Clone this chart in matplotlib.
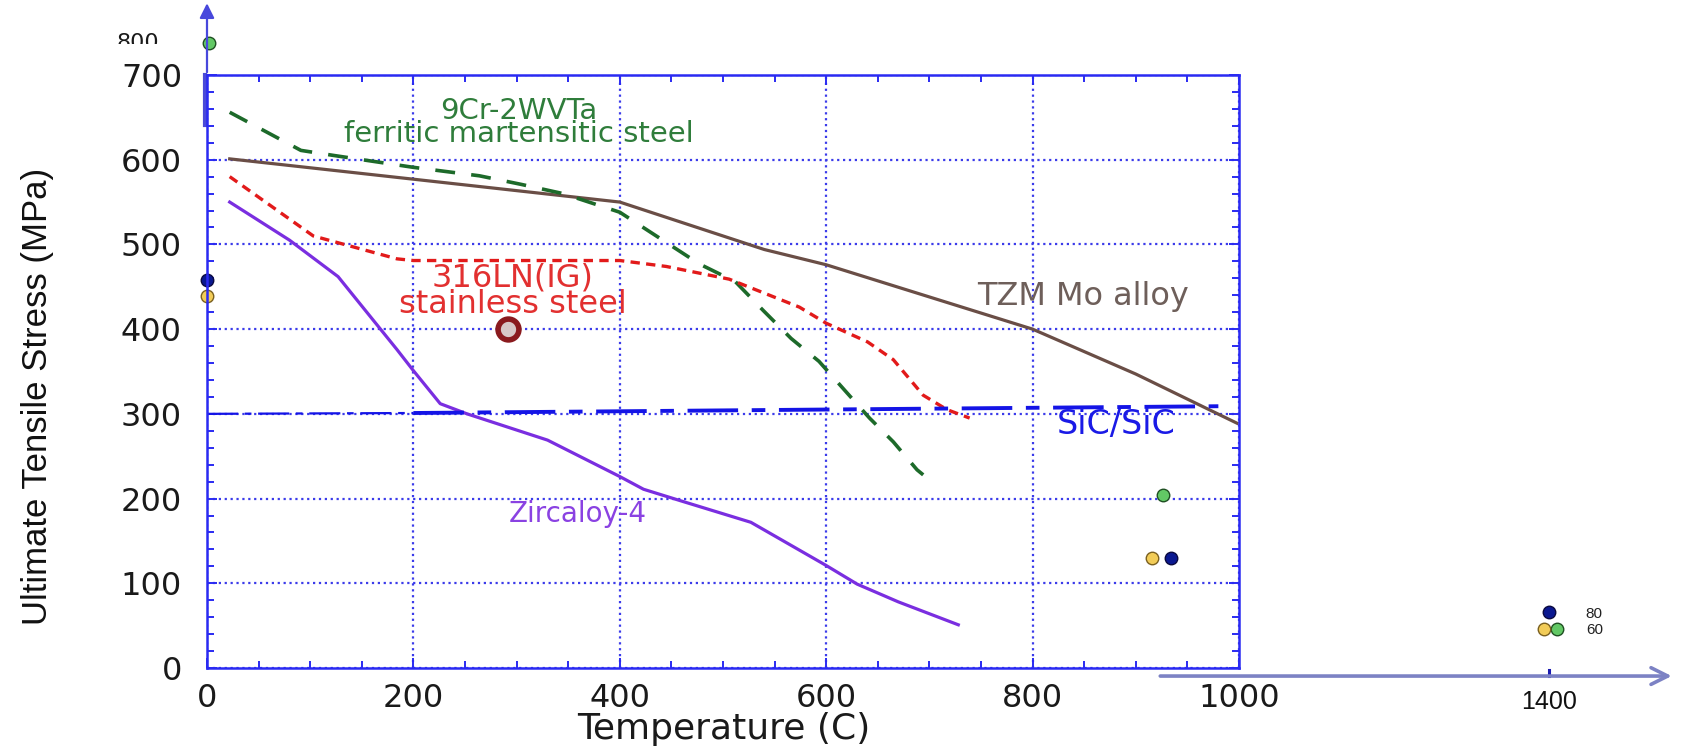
import matplotlib.pyplot as plt
from matplotlib.ticker import MultipleLocator
from matplotlib.transforms import Bbox
import numpy as np

# Ultimate tensile stress (MPa) against temperature (C)
tzm_t = [22, 200, 400, 540, 600, 800, 900, 998]
tzm_s = [601, 577, 550, 494, 476, 400, 347, 289]

fm_t = [22, 91, 123, 200, 264, 304, 345, 400, 477, 512, 539, 566, 593, 620, 642, 665, 688, 694]
fm_s = [656, 611, 605, 591, 581, 571, 560, 538, 477, 456, 422, 389, 362, 325, 295, 267, 234, 228]

ss_t = [22, 103, 184, 200, 400, 445, 506, 574, 600, 640, 665, 694, 717, 739]
ss_s = [580, 510, 483, 481, 481, 474, 459, 426, 407, 385, 364, 322, 305, 295]

zr_t = [22, 80, 127, 184, 200, 226, 252, 330, 400, 423, 460, 527, 600, 630, 670, 728]
zr_s = [550, 505, 462, 376, 351, 312, 300, 269, 226, 211, 197, 172, 121, 99, 78, 51]

sic_t = [0, 200, 980]
sic_s = [300, 301, 309]

# loose points from the overlaid chart
green_t = [2, 926, 1308]
green_s = [738, 204, 46]
navy_t = [0, 934, 1300]
navy_s = [458, 130, 66]
yellow_t = [0, 916, 1296]
yellow_s = [439, 130, 46]
ring_t, ring_s = [292], [400]

xticks = [0, 200, 400, 600, 800, 1000]
yticks = [0, 100, 200, 300, 400, 500, 600, 700]

blue = '#2a2af2'
narrow = ['Liberation Sans', 'DejaVu Sans']

fig = plt.figure(figsize=(16.89, 7.49), dpi=100)
ax = fig.add_axes([207 / 1689, 81 / 749, 1032 / 1689, 593 / 749])
ax.set_xlim(0, 1000)
ax.set_ylim(0, 700)

for s in ax.spines.values():
    s.set_color(blue)
    s.set_linewidth(1.8)

ax.set_xticks(xticks)
ax.set_yticks(yticks)
ax.xaxis.set_minor_locator(MultipleLocator(50))
ax.yaxis.set_minor_locator(MultipleLocator(20))
ax.tick_params(which='both', direction='in', color=blue, width=1.4,
               top=True, right=True, labelsize=23, labelcolor='#1a1a1a')
ax.tick_params(which='major', length=7)
ax.tick_params(which='minor', length=5)
ax.tick_params(axis='x', pad=11)
ax.tick_params(axis='y', pad=18)
ax.grid(True, which='major', color='#3b3bea', linestyle=':', linewidth=1.6)

fig.text(724 / 1689, 3 / 749, 'Temperature (C)', fontsize=26, color='#1a1a1a',
         ha='center', va='bottom')
fig.text(38 / 1689, 1 - 396 / 749, 'Ultimate Tensile Stress (MPa)', fontsize=25,
         color='#111111', family=narrow, rotation=90, ha='center', va='center')

# curves
ax.plot(tzm_t, tzm_s, color='#6a4e46', lw=2.3)
l, = ax.plot(fm_t, fm_s, color='#1d6a2a', lw=2.6)
l.set_dashes((5.5, 4.5))
l, = ax.plot(ss_t, ss_s, color='#e21a1a', lw=2.4)
l.set_dashes((2.8, 1.9))
ax.plot(zr_t, zr_s, color='#7a2ee0', lw=2.3)
l, = ax.plot(sic_t[:2], sic_s[:2], color='#1414e6', lw=1.6)
l.set_dashes((14, 3, 3, 3))
l, = ax.plot(sic_t[1:], sic_s[1:], color='#1414e6', lw=2.8, clip_on=False)
l.set_dashes((13, 3.5, 3.5, 3.5))

# labels on the curves
ax.text(302, 644, '9Cr-2WVTa\nferritic martensitic steel', color='#2f7d3b', fontsize=21,
        ha='center', va='center', multialignment='center', linespacing=0.78)
ax.text(296, 445, '316LN(IG)\nstainless steel', color='#e23030', fontsize=23,
        ha='center', va='center', multialignment='center', linespacing=0.82)
ax.text(849, 439, 'TZM Mo alloy', color='#6e5f5a', fontsize=23, ha='center', va='center')
ax.text(881, 287, 'SiC/SiC', color='#1a1ae6', fontsize=24, ha='center', va='center')
ax.text(359, 182, 'Zircaloy-4', color='#8a42e2', fontsize=20, ha='center', va='center')

# overlaid points
ax.plot(green_t, green_s, 'o', ms=9, mfc='#62c865', mec='#1f4f22', mew=1, clip_on=False)
ax.plot(navy_t, navy_s, 'o', ms=9, mfc='#0a1890', mec='#0a0a40', mew=1, clip_on=False)
ax.plot(yellow_t, yellow_s, 'o', ms=9, mfc='#f2cc58', mec='#7a6020', mew=1, clip_on=False)
ax.plot(ring_t, ring_s, 'o', ms=15, mfc='#d8c8c8', mec='#8a1a1e', mew=4)

# extended y axis with arrow, and thick spine piece
ax.annotate('', xy=(0, 788), xytext=(0, 700), xycoords='data',
            arrowprops=dict(arrowstyle='-|>', color='#4848dc', lw=1.6,
                            mutation_scale=22), annotation_clip=False)
ax.plot([-2, -2], [641, 700], color='#4a4ad8', lw=3, clip_on=False)

# clipped label left over at the top
t = ax.text(-67, 749, '800', fontsize=16, color='#1a1a1a', ha='center', va='top',
            clip_on=True)
t.set_clip_box(Bbox.from_extents(90, 749 - 44, 220, 749 - 28))

# extended lower axis
ax.annotate('', xy=(1422, -9.5), xytext=(921, -9.5), xycoords='data',
            arrowprops=dict(arrowstyle='->', color='#7c82c4', lw=2.6,
                            mutation_scale=30), annotation_clip=False)
ax.plot([1300, 1300], [-9, -2], color='#1a1ab0', lw=2.2, clip_on=False)
ax.text(1300, -40, '1400', fontsize=18, ha='center', va='center', color='#111111',
        family=narrow)
ax.text(1336, 64, '80', fontsize=11, ha='left', va='center', color='#222222',
        family=narrow)
ax.text(1336, 45, '60', fontsize=11, ha='left', va='center', color='#222222',
        family=narrow)

fig.savefig('out.png', dpi=100)
